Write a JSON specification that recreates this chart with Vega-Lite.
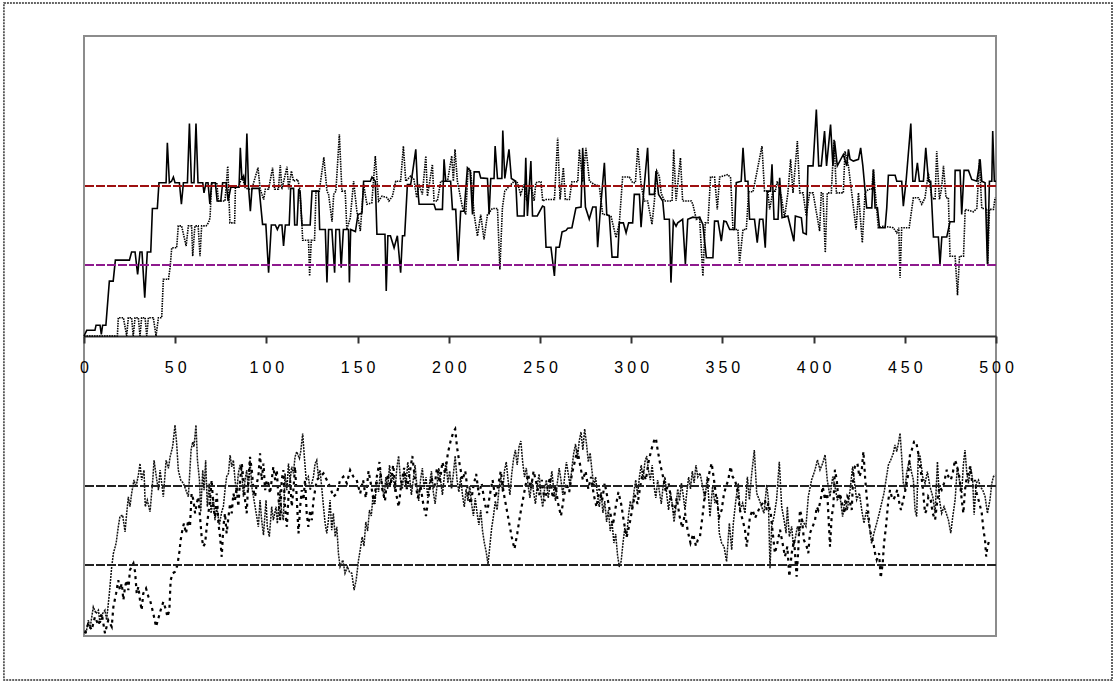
{
"$schema": "https://vega.github.io/schema/vega-lite/v6.json",
"width": 912, "height": 600,
"autosize": "none",
"padding": {"left": 84, "top": 36, "right": 121, "bottom": 46},
"background": "white",
"config": {"view": {"stroke": "#8c8c8c", "strokeWidth": 2}},
"datasets": {
"A": [{"x":0,"y":0},{"x":1.5,"y":1.9},{"x":6,"y":1.9},{"x":6.6,"y":3.6},{"x":8.8,"y":3.6},{"x":9.5,"y":0.5},{"x":10.2,"y":3.6},{"x":12,"y":3.6},{"x":13.9,"y":18.3},{"x":16,"y":18.3},{"x":17.2,"y":25.3},{"x":24.9,"y":25.3},{"x":26.1,"y":28},{"x":28,"y":28},{"x":29.4,"y":20.5},{"x":30.7,"y":28},{"x":31.8,"y":28},{"x":33.3,"y":12.8},{"x":34.7,"y":28},{"x":36.6,"y":28},{"x":37.5,"y":42.5},{"x":40.2,"y":42.5},{"x":41.1,"y":51.1},{"x":45,"y":51.1},{"x":45.7,"y":64.4},{"x":46.8,"y":51.1},{"x":48,"y":51.6},{"x":49,"y":53},{"x":49.9,"y":51.1},{"x":52.3,"y":51.1},{"x":53.4,"y":43.9},{"x":54.5,"y":51.1},{"x":56.7,"y":51.1},{"x":57.8,"y":70.8},{"x":58.9,"y":51.1},{"x":60.3,"y":51.1},{"x":61.4,"y":70.8},{"x":62.5,"y":51.1},{"x":65.1,"y":51.1},{"x":65.8,"y":47.7},{"x":66.9,"y":51.1},{"x":68,"y":51.1},{"x":69,"y":44},{"x":70,"y":51.1},{"x":72,"y":51.1},{"x":73,"y":45},{"x":75,"y":45},{"x":76,"y":51.1},{"x":78,"y":51.1},{"x":79,"y":45},{"x":80.5,"y":49.6},{"x":85,"y":49.6},{"x":85.7,"y":62.7},{"x":86.6,"y":52},{"x":87.5,"y":53.3},{"x":88.4,"y":49.6},{"x":89.3,"y":67.5},{"x":90.2,"y":49.6},{"x":91.2,"y":41.6},{"x":92.1,"y":49.2},{"x":96,"y":49.2},{"x":97.9,"y":37.2},{"x":99.7,"y":37.2},{"x":101.2,"y":21.1},{"x":102.7,"y":37},{"x":104.9,"y":37},{"x":106,"y":35.5},{"x":107.1,"y":37},{"x":108.5,"y":37},{"x":109.4,"y":30},{"x":110.4,"y":37},{"x":112.5,"y":37},{"x":113.3,"y":49.2},{"x":114.9,"y":49.2},{"x":115.5,"y":37},{"x":116.8,"y":37},{"x":117.7,"y":49},{"x":118.5,"y":48},{"x":119.5,"y":37},{"x":124,"y":37},{"x":125,"y":48.3},{"x":128.6,"y":48.3},{"x":129.2,"y":35.5},{"x":132.3,"y":35.5},{"x":133.2,"y":17.8},{"x":134.1,"y":35.5},{"x":135.9,"y":35.5},{"x":137.4,"y":21.1},{"x":138.1,"y":35.5},{"x":140,"y":35.5},{"x":141,"y":22.8},{"x":142.2,"y":35.5},{"x":145,"y":35.5},{"x":145.5,"y":17.8},{"x":146.2,"y":35.5},{"x":148.8,"y":34.8},{"x":150.2,"y":40.5},{"x":152.4,"y":41},{"x":153.3,"y":51.6},{"x":157,"y":51.6},{"x":157.9,"y":53},{"x":159.7,"y":51.6},{"x":160.6,"y":33.9},{"x":165,"y":33.9},{"x":165.7,"y":15},{"x":166.6,"y":33.4},{"x":168,"y":33.4},{"x":170,"y":29.4},{"x":171.8,"y":33.4},{"x":173.6,"y":21.1},{"x":174.6,"y":33.4},{"x":175.8,"y":33.4},{"x":177.3,"y":50.5},{"x":179.1,"y":50.5},{"x":180.1,"y":54.4},{"x":181.9,"y":62.2},{"x":182.8,"y":50.5},{"x":183.7,"y":43.9},{"x":191.9,"y":43.9},{"x":192.8,"y":42.2},{"x":196.5,"y":42.2},{"x":197.4,"y":58.9},{"x":198.3,"y":51.6},{"x":201,"y":51.6},{"x":202,"y":42.2},{"x":203.8,"y":42.2},{"x":205.1,"y":25},{"x":206.5,"y":41.6},{"x":208.4,"y":41.6},{"x":210.2,"y":56.1},{"x":211.7,"y":55},{"x":213,"y":40.5},{"x":213.9,"y":54.7},{"x":216.6,"y":54.7},{"x":217.5,"y":52.7},{"x":221.2,"y":52.5},{"x":222.1,"y":40.5},{"x":223,"y":52.5},{"x":224.8,"y":52.5},{"x":225.4,"y":63.3},{"x":226.7,"y":52.5},{"x":229.1,"y":52.5},{"x":229.6,"y":68.5},{"x":230.7,"y":52.5},{"x":233,"y":62.2},{"x":234.3,"y":52.5},{"x":236.7,"y":51.6},{"x":237.6,"y":40},{"x":241.3,"y":40},{"x":242.2,"y":59.4},{"x":243.1,"y":40},{"x":245,"y":58.3},{"x":245.9,"y":40},{"x":248.5,"y":40},{"x":251.4,"y":43.3},{"x":252.4,"y":43},{"x":253.3,"y":29.6},{"x":256,"y":29.6},{"x":257.9,"y":20},{"x":258.8,"y":29.6},{"x":260.6,"y":29.6},{"x":262.1,"y":34.7},{"x":264.3,"y":35.2},{"x":265.2,"y":35.9},{"x":267.5,"y":36.1},{"x":269.7,"y":42.7},{"x":272.5,"y":43},{"x":273.4,"y":62.7},{"x":274.9,"y":43},{"x":277,"y":38.9},{"x":278.9,"y":43},{"x":280.7,"y":43},{"x":281.6,"y":29.6},{"x":282.9,"y":40.5},{"x":285.3,"y":57.7},{"x":286.6,"y":40.5},{"x":288,"y":40},{"x":289.5,"y":26.3},{"x":292.6,"y":26.3},{"x":293.5,"y":37.7},{"x":295.7,"y":37.7},{"x":297.2,"y":34.4},{"x":298.6,"y":37.7},{"x":300.8,"y":37.7},{"x":301.7,"y":47.2},{"x":304.5,"y":47.2},{"x":305.4,"y":36.3},{"x":306.7,"y":47},{"x":309,"y":62.7},{"x":310,"y":47.2},{"x":312.7,"y":47.2},{"x":313.6,"y":55},{"x":315,"y":47.2},{"x":317.3,"y":45},{"x":318.2,"y":38.9},{"x":320.9,"y":38.9},{"x":321.8,"y":17.8},{"x":323.1,"y":38.3},{"x":324.6,"y":36.6},{"x":325.5,"y":37.7},{"x":328.2,"y":38.9},{"x":329.7,"y":23.9},{"x":331,"y":38.9},{"x":333.8,"y":39.6},{"x":335.7,"y":39.4},{"x":337.5,"y":39.6},{"x":339.3,"y":37.2},{"x":341.2,"y":26.1},{"x":344.8,"y":26.1},{"x":345.7,"y":38.3},{"x":347.6,"y":38.3},{"x":349.4,"y":31.6},{"x":350.8,"y":38.3},{"x":352.1,"y":38.1},{"x":354,"y":35.5},{"x":356.7,"y":35.5},{"x":357.6,"y":51.1},{"x":360.3,"y":51.6},{"x":361.3,"y":62.7},{"x":362.5,"y":51.6},{"x":364,"y":51.6},{"x":364.9,"y":38.9},{"x":367.6,"y":38.9},{"x":369.1,"y":31.1},{"x":370.4,"y":38.9},{"x":372.2,"y":38.9},{"x":373.5,"y":29.4},{"x":374.6,"y":48.3},{"x":376.4,"y":48.3},{"x":377.2,"y":57.2},{"x":378.3,"y":38.9},{"x":380.5,"y":38.9},{"x":381.4,"y":52.7},{"x":382.7,"y":39.4},{"x":385.9,"y":40},{"x":389.2,"y":31.6},{"x":390,"y":40},{"x":393.3,"y":39.4},{"x":394.2,"y":34.4},{"x":396,"y":33.9},{"x":396.9,"y":56.7},{"x":399.7,"y":56.7},{"x":401.5,"y":75.5},{"x":402.8,"y":56.7},{"x":404.2,"y":56.7},{"x":406,"y":68.3},{"x":407.1,"y":56.7},{"x":409.3,"y":70.5},{"x":410.6,"y":56.7},{"x":411.5,"y":65},{"x":413,"y":56.7},{"x":416.3,"y":60.5},{"x":418.2,"y":56.7},{"x":419.1,"y":62.2},{"x":420,"y":58.9},{"x":421.8,"y":58.3},{"x":424.6,"y":58.9},{"x":425.8,"y":62.7},{"x":427,"y":56.7},{"x":429.1,"y":42.7},{"x":431.9,"y":42.7},{"x":432.8,"y":55.5},{"x":433.7,"y":42.7},{"x":435,"y":42.7},{"x":436.1,"y":36.1},{"x":439.2,"y":36.1},{"x":440.1,"y":42.7},{"x":441,"y":53.6},{"x":444.7,"y":53.6},{"x":445.6,"y":51.6},{"x":448.3,"y":51.6},{"x":449.2,"y":43.3},{"x":450.7,"y":51.6},{"x":453.3,"y":70.8},{"x":454.4,"y":51.6},{"x":455.6,"y":51.6},{"x":456.9,"y":57.7},{"x":458,"y":51.6},{"x":460.2,"y":51.6},{"x":461.5,"y":62.7},{"x":463,"y":51.6},{"x":464.2,"y":51.6},{"x":465.7,"y":33},{"x":468.4,"y":33},{"x":469.3,"y":23.9},{"x":470.3,"y":33},{"x":473,"y":33},{"x":474.8,"y":38.1},{"x":477.1,"y":38.1},{"x":477.6,"y":55.2},{"x":480.3,"y":55.2},{"x":481.2,"y":40.5},{"x":482.5,"y":55.2},{"x":484.9,"y":55.2},{"x":486.7,"y":52.2},{"x":489.5,"y":51.6},{"x":491.3,"y":58.9},{"x":492.2,"y":51.6},{"x":494,"y":51.1},{"x":495.3,"y":23.9},{"x":496.4,"y":51.6},{"x":497.7,"y":51.6},{"x":498.2,"y":68.3},{"x":499.1,"y":51.6},{"x":500,"y":51.6}],
"B": [{"x":0,"y":0},{"x":18.3,"y":0},{"x":18.8,"y":6.1},{"x":21.6,"y":6.1},{"x":23.4,"y":0},{"x":24.3,"y":6.1},{"x":26.1,"y":6.1},{"x":27,"y":0},{"x":28,"y":6.1},{"x":29.8,"y":6.1},{"x":30.7,"y":0},{"x":31.6,"y":6.1},{"x":33.5,"y":6.1},{"x":34.4,"y":0},{"x":35.3,"y":6.1},{"x":38,"y":6.1},{"x":39.5,"y":0},{"x":40.8,"y":6.1},{"x":42.6,"y":6.1},{"x":43.5,"y":18.9},{"x":46.3,"y":18.9},{"x":47.2,"y":22.8},{"x":48.1,"y":29.4},{"x":50.8,"y":29.4},{"x":51.7,"y":36.7},{"x":53.5,"y":36.7},{"x":56,"y":30},{"x":57.2,"y":36.7},{"x":59,"y":36.7},{"x":59.6,"y":26.6},{"x":60.8,"y":36.7},{"x":62.6,"y":36.7},{"x":63.6,"y":26.6},{"x":64.5,"y":36.7},{"x":66.9,"y":36.7},{"x":68.2,"y":37.7},{"x":69.1,"y":39.4},{"x":70,"y":51.1},{"x":72.8,"y":51.1},{"x":73.7,"y":45},{"x":77.3,"y":45},{"x":78.8,"y":56.6},{"x":80,"y":37.7},{"x":82.6,"y":37.7},{"x":83,"y":49.6},{"x":84.8,"y":49.6},{"x":86.6,"y":53.3},{"x":88.4,"y":49.4},{"x":90.2,"y":48.9},{"x":92,"y":49},{"x":95.4,"y":56.1},{"x":96.6,"y":48.9},{"x":98.5,"y":45.5},{"x":99.4,"y":48.9},{"x":101.2,"y":48.9},{"x":103.4,"y":56.1},{"x":104.5,"y":48.9},{"x":106.6,"y":48.9},{"x":107.6,"y":57},{"x":108.5,"y":48.9},{"x":111.3,"y":56.4},{"x":112.2,"y":48.9},{"x":113.7,"y":55},{"x":114.9,"y":51.6},{"x":117.1,"y":52.2},{"x":118.2,"y":49.6},{"x":119.5,"y":37},{"x":119.9,"y":31.9},{"x":123.1,"y":31.9},{"x":123.7,"y":20},{"x":124.6,"y":31.9},{"x":126.4,"y":31.9},{"x":127.2,"y":48.3},{"x":129,"y":48.3},{"x":131.5,"y":59.6},{"x":133.2,"y":48.3},{"x":134.1,"y":47.2},{"x":136,"y":38.1},{"x":136.9,"y":47.2},{"x":138.1,"y":48.3},{"x":140,"y":67.2},{"x":141.4,"y":48.3},{"x":143.2,"y":48.3},{"x":144.1,"y":35.5},{"x":146,"y":39.4},{"x":147.8,"y":51.6},{"x":149.6,"y":41.6},{"x":151.5,"y":35},{"x":153.3,"y":50.5},{"x":155.1,"y":43.9},{"x":157.8,"y":44.4},{"x":158.8,"y":52.5},{"x":159.7,"y":60},{"x":161.5,"y":45},{"x":163.4,"y":46.6},{"x":166.3,"y":46.1},{"x":167.2,"y":45},{"x":169.1,"y":46.6},{"x":170.9,"y":51.6},{"x":173.6,"y":51.6},{"x":175.1,"y":63.3},{"x":176.4,"y":51.6},{"x":179.1,"y":53.3},{"x":180.9,"y":52.2},{"x":182.4,"y":46.1},{"x":183.7,"y":50.5},{"x":185.5,"y":47.2},{"x":187.4,"y":60},{"x":188.3,"y":46.6},{"x":191,"y":57.2},{"x":191.9,"y":45},{"x":193.7,"y":45},{"x":195.6,"y":51.6},{"x":199.3,"y":51.6},{"x":201.6,"y":60},{"x":202.5,"y":51.6},{"x":203.4,"y":62.2},{"x":204.7,"y":51.6},{"x":207.5,"y":42.8},{"x":209.3,"y":40.5},{"x":210.6,"y":56.1},{"x":212,"y":55},{"x":213.9,"y":40.5},{"x":215.7,"y":33.3},{"x":217.5,"y":40.5},{"x":219.3,"y":32.2},{"x":221.2,"y":40.5},{"x":223.9,"y":42.5},{"x":226.7,"y":42.5},{"x":228,"y":22.2},{"x":229.4,"y":42.8},{"x":230.7,"y":48.3},{"x":235.8,"y":51.6},{"x":237.6,"y":51.1},{"x":239.4,"y":47.2},{"x":241.3,"y":50.5},{"x":242.7,"y":45},{"x":245,"y":50.5},{"x":246.8,"y":45},{"x":247.7,"y":51.1},{"x":249.6,"y":51.4},{"x":250.5,"y":51.4},{"x":251.5,"y":45},{"x":253.3,"y":45.5},{"x":257.9,"y":45.5},{"x":259.7,"y":66.1},{"x":261,"y":45.5},{"x":262.8,"y":56.1},{"x":263.9,"y":45.5},{"x":266.1,"y":45.5},{"x":267.5,"y":51.4},{"x":270.7,"y":51.4},{"x":271.6,"y":62.2},{"x":273.4,"y":51.4},{"x":275.2,"y":62.7},{"x":277.1,"y":51.6},{"x":279.8,"y":50.5},{"x":282.5,"y":50},{"x":284.4,"y":40.5},{"x":286.2,"y":40.5},{"x":288.9,"y":40},{"x":291.7,"y":32.8},{"x":293.5,"y":37.7},{"x":295.3,"y":53},{"x":299,"y":53},{"x":300.8,"y":51.1},{"x":302.3,"y":51.1},{"x":303.6,"y":62.7},{"x":305.4,"y":50.5},{"x":307.2,"y":45},{"x":309,"y":45},{"x":311.4,"y":37.2},{"x":312.7,"y":45},{"x":314,"y":55},{"x":315.4,"y":53.3},{"x":316.4,"y":47.7},{"x":318.2,"y":45},{"x":322.4,"y":45},{"x":323.3,"y":62.2},{"x":324.6,"y":45},{"x":327,"y":59.4},{"x":328.2,"y":45},{"x":333,"y":45},{"x":333.8,"y":43.9},{"x":335.7,"y":38.9},{"x":337.5,"y":39.4},{"x":339.3,"y":20},{"x":340.6,"y":37.7},{"x":342.1,"y":37.7},{"x":343.5,"y":53},{"x":345.7,"y":53},{"x":347.2,"y":42.2},{"x":348.5,"y":53},{"x":353,"y":53.8},{"x":354.5,"y":52.7},{"x":355.8,"y":35.5},{"x":358.5,"y":35.5},{"x":359.4,"y":24.4},{"x":361.3,"y":35.5},{"x":363.1,"y":35.5},{"x":364.4,"y":48.1},{"x":366.8,"y":48.1},{"x":371.7,"y":63.3},{"x":373.1,"y":48.3},{"x":374.9,"y":48.3},{"x":375.9,"y":42.2},{"x":377.7,"y":48.3},{"x":379,"y":48.3},{"x":380.1,"y":51.6},{"x":382.3,"y":46.6},{"x":384.1,"y":39.4},{"x":385.9,"y":47.7},{"x":387.4,"y":58.9},{"x":388.7,"y":47.7},{"x":391.1,"y":65},{"x":392.4,"y":47.7},{"x":394.2,"y":47.7},{"x":396,"y":40},{"x":397.8,"y":47.7},{"x":399.7,"y":47.7},{"x":403.3,"y":35},{"x":404.2,"y":47.7},{"x":405.1,"y":47.7},{"x":406.4,"y":27.8},{"x":407.5,"y":47.7},{"x":409.7,"y":47.7},{"x":411.2,"y":65.5},{"x":412.5,"y":47.7},{"x":416.3,"y":47.7},{"x":417.2,"y":61.6},{"x":419.1,"y":56.7},{"x":420.9,"y":47.7},{"x":423.3,"y":35.5},{"x":424.6,"y":47.7},{"x":426.7,"y":31.1},{"x":428.2,"y":47.7},{"x":430,"y":48.9},{"x":431.9,"y":48.9},{"x":432.8,"y":55.5},{"x":434.2,"y":45},{"x":435.5,"y":36.1},{"x":438.3,"y":36.6},{"x":443.7,"y":36.1},{"x":445.6,"y":34.4},{"x":446.7,"y":36.1},{"x":447.4,"y":19.4},{"x":448.3,"y":36.1},{"x":452.4,"y":36.1},{"x":454.7,"y":46.1},{"x":457.5,"y":46.1},{"x":459.3,"y":43.9},{"x":461.1,"y":46.1},{"x":462.9,"y":54.4},{"x":464.8,"y":46.1},{"x":466.6,"y":45.5},{"x":467.5,"y":61.6},{"x":469,"y":45.5},{"x":470.2,"y":49.4},{"x":471.2,"y":56.7},{"x":472.6,"y":46.1},{"x":473.9,"y":46.1},{"x":474.8,"y":26.6},{"x":477.6,"y":26.6},{"x":478.9,"y":13.6},{"x":480,"y":26.6},{"x":482.2,"y":26.6},{"x":483.1,"y":42.2},{"x":487.6,"y":41.4},{"x":489.5,"y":42.5},{"x":490.9,"y":58.9},{"x":492.2,"y":42.5},{"x":494.9,"y":42.5},{"x":495.5,"y":24},{"x":496.4,"y":42.2},{"x":498.6,"y":42.2},{"x":499.5,"y":46.1}],
"C": [{"x":1.1,"y":0.9},{"x":2.4,"y":5.3},{"x":3.3,"y":2.5},{"x":5.1,"y":9.7},{"x":6.6,"y":7.5},{"x":7.9,"y":8.6},{"x":8.8,"y":4.2},{"x":10.2,"y":7.5},{"x":11.5,"y":8.6},{"x":12.4,"y":5.3},{"x":13.9,"y":14.2},{"x":15.2,"y":23.1},{"x":16.1,"y":27.5},{"x":17.6,"y":30.9},{"x":18.8,"y":36.4},{"x":19.7,"y":39.8},{"x":21.2,"y":40.3},{"x":22.5,"y":34.7},{"x":23.4,"y":40.9},{"x":24.3,"y":46.4},{"x":25.2,"y":43.1},{"x":26.1,"y":47.5},{"x":27.4,"y":52},{"x":28.5,"y":49.7},{"x":29.8,"y":53.6},{"x":30.7,"y":57.5},{"x":31.6,"y":52},{"x":32.9,"y":55.3},{"x":33.6,"y":43.1},{"x":34.7,"y":45.3},{"x":36.2,"y":41.4},{"x":37.7,"y":52},{"x":38.4,"y":58.6},{"x":39.9,"y":52},{"x":40.8,"y":48.6},{"x":41.7,"y":55.3},{"x":42.6,"y":50.9},{"x":43.5,"y":46.4},{"x":45,"y":58.6},{"x":46.3,"y":55.9},{"x":47.2,"y":59.7},{"x":48.6,"y":63.1},{"x":49.9,"y":70.3},{"x":50.8,"y":64.2},{"x":51.7,"y":55.3},{"x":53,"y":52},{"x":54.5,"y":50.9},{"x":55.9,"y":48.6},{"x":57.2,"y":46.4},{"x":58.7,"y":62},{"x":59.6,"y":64.7},{"x":60.3,"y":63.1},{"x":61.4,"y":70.3},{"x":62.2,"y":58.6},{"x":63.3,"y":52},{"x":64,"y":41.4},{"x":65.1,"y":55.3},{"x":65.8,"y":48.6},{"x":66.7,"y":58.6},{"x":67.6,"y":43.1},{"x":68.7,"y":50.9},{"x":69.7,"y":40.9},{"x":70.9,"y":46.4},{"x":71.8,"y":38.6},{"x":72.8,"y":43.1},{"x":74.2,"y":37},{"x":75.5,"y":41.4},{"x":76.4,"y":43.1},{"x":77.3,"y":48.6},{"x":78.2,"y":53.1},{"x":79.2,"y":54.2},{"x":80.1,"y":60.3},{"x":81,"y":56.4},{"x":81.9,"y":58.6},{"x":82.8,"y":52},{"x":83.7,"y":47.5},{"x":84.6,"y":54.2},{"x":85.6,"y":57},{"x":86.5,"y":54.7},{"x":87.4,"y":46.4},{"x":88.3,"y":52},{"x":89.2,"y":55.3},{"x":90.1,"y":48.6},{"x":91,"y":58.6},{"x":92,"y":49.7},{"x":92.9,"y":46.4},{"x":93.8,"y":43.1},{"x":94.7,"y":39.8},{"x":95.6,"y":36.4},{"x":96.5,"y":45.3},{"x":97.4,"y":38.6},{"x":98.4,"y":33.6},{"x":99.8,"y":45.3},{"x":100.5,"y":36.4},{"x":101.6,"y":33.1},{"x":102.9,"y":43.1},{"x":103.8,"y":38.6},{"x":105.3,"y":43.1},{"x":106,"y":37.5},{"x":107.5,"y":48.6},{"x":108.4,"y":40.9},{"x":109.3,"y":38.6},{"x":110.2,"y":54.2},{"x":111.2,"y":48.6},{"x":112.1,"y":57.5},{"x":113,"y":52},{"x":113.9,"y":56.4},{"x":114.8,"y":54.2},{"x":115.7,"y":59.7},{"x":116.6,"y":61.4},{"x":118.1,"y":59.2},{"x":118.8,"y":61.4},{"x":119.9,"y":67.5},{"x":120.8,"y":59.7},{"x":121.8,"y":52},{"x":123,"y":53.1},{"x":124,"y":48.6},{"x":124.9,"y":50.9},{"x":125.8,"y":53.1},{"x":126.7,"y":57.5},{"x":127.6,"y":58.6},{"x":128.5,"y":53.1},{"x":129.4,"y":55.3},{"x":130.3,"y":49.7},{"x":131.3,"y":43.1},{"x":132.2,"y":37.5},{"x":133.1,"y":34.2},{"x":134,"y":38.6},{"x":134.9,"y":45.3},{"x":135.8,"y":35.3},{"x":136.7,"y":40.9},{"x":137.7,"y":33.1},{"x":138.6,"y":36.4},{"x":139.5,"y":27.5},{"x":140.4,"y":23.1},{"x":141.9,"y":25.3},{"x":143.1,"y":20.9},{"x":144.4,"y":23.1},{"x":145.5,"y":21.4},{"x":146.8,"y":20.9},{"x":148.1,"y":15.3},{"x":149.2,"y":18.6},{"x":150.5,"y":25.3},{"x":151.4,"y":28.6},{"x":152.5,"y":33},{"x":153.5,"y":30},{"x":154.5,"y":38},{"x":155.5,"y":35},{"x":156.5,"y":42},{"x":157.5,"y":40},{"x":158.5,"y":47},{"x":159.5,"y":44},{"x":160.5,"y":52},{"x":161.5,"y":48},{"x":162.5,"y":55},{"x":163.5,"y":50},{"x":164.5,"y":46},{"x":165.5,"y":53},{"x":166.5,"y":49},{"x":167.5,"y":57},{"x":168.5,"y":51},{"x":169.5,"y":54},{"x":170.5,"y":48},{"x":171.5,"y":56},{"x":172.5,"y":60},{"x":173.5,"y":52},{"x":174.5,"y":49},{"x":175.5,"y":55},{"x":176.5,"y":50},{"x":177.5,"y":58},{"x":178.5,"y":53},{"x":179.5,"y":47},{"x":180.5,"y":52},{"x":181.5,"y":57},{"x":182.5,"y":50},{"x":183.5,"y":45},{"x":184.5,"y":52},{"x":185.5,"y":56},{"x":186.5,"y":49},{"x":187.5,"y":53},{"x":188.5,"y":46},{"x":189.5,"y":51},{"x":190.5,"y":55},{"x":191.5,"y":48},{"x":192.5,"y":44},{"x":193.5,"y":50},{"x":194.5,"y":56},{"x":195.5,"y":52},{"x":196.5,"y":47},{"x":197.5,"y":53},{"x":198.5,"y":58},{"x":199.5,"y":51},{"x":200.5,"y":55},{"x":201.5,"y":49},{"x":202.5,"y":54},{"x":203.5,"y":60},{"x":204.5,"y":52},{"x":205.5,"y":48},{"x":206.5,"y":53},{"x":207.5,"y":47},{"x":208.5,"y":43},{"x":209.5,"y":49},{"x":210.5,"y":45},{"x":211.5,"y":50},{"x":212.5,"y":44},{"x":213.5,"y":40},{"x":214.5,"y":46},{"x":215.5,"y":41},{"x":216.5,"y":37},{"x":217.5,"y":42},{"x":218.5,"y":35},{"x":219.5,"y":31},{"x":220.5,"y":28},{"x":221.5,"y":24},{"x":222.5,"y":30},{"x":223.5,"y":36},{"x":224.5,"y":40},{"x":225.5,"y":45},{"x":226.5,"y":42},{"x":227.5,"y":49},{"x":228.5,"y":53},{"x":229.5,"y":48},{"x":230.5,"y":55},{"x":231.5,"y":58},{"x":232.5,"y":52},{"x":233.5,"y":47},{"x":234.5,"y":54},{"x":235.5,"y":59},{"x":236.5,"y":62},{"x":237.5,"y":57},{"x":238.5,"y":63},{"x":239.5,"y":65},{"x":240.5,"y":58},{"x":241.5,"y":53},{"x":242.5,"y":56},{"x":243.5,"y":50},{"x":244.5,"y":46},{"x":245.5,"y":52},{"x":246.5,"y":48},{"x":247.5,"y":44},{"x":248.5,"y":50},{"x":249.5,"y":54},{"x":250.5,"y":47},{"x":251.5,"y":43},{"x":252.5,"y":49},{"x":253.5,"y":52},{"x":254.5,"y":46},{"x":255.5,"y":50},{"x":256.5,"y":55},{"x":257.5,"y":49},{"x":258.5,"y":45},{"x":259.5,"y":51},{"x":260.5,"y":56},{"x":261.5,"y":52},{"x":262.5,"y":47},{"x":263.5,"y":53},{"x":264.5,"y":58},{"x":265.5,"y":54},{"x":266.5,"y":50},{"x":267.5,"y":56},{"x":268.5,"y":61},{"x":269.5,"y":64},{"x":270.5,"y":59},{"x":271.5,"y":65},{"x":272.5,"y":68},{"x":273.5,"y":62},{"x":274.5,"y":69},{"x":275.5,"y":64},{"x":276.5,"y":58},{"x":277.5,"y":61},{"x":278.5,"y":55},{"x":279.5,"y":50},{"x":280.5,"y":53},{"x":281.5,"y":47},{"x":282.5,"y":43},{"x":283.5,"y":48},{"x":284.5,"y":41},{"x":285.5,"y":45},{"x":286.5,"y":38},{"x":287.5,"y":42},{"x":288.5,"y":35},{"x":289.5,"y":38},{"x":290.5,"y":31},{"x":291.5,"y":34},{"x":292.5,"y":27},{"x":293.5,"y":23},{"x":294.5,"y":25},{"x":295.5,"y":31},{"x":296.5,"y":36},{"x":297.5,"y":33},{"x":298.5,"y":40},{"x":299.5,"y":45},{"x":300.5,"y":42},{"x":301.5,"y":48},{"x":302.5,"y":52},{"x":303.5,"y":47},{"x":304.5,"y":53},{"x":305.5,"y":57},{"x":306.5,"y":52},{"x":307.5,"y":58},{"x":308.5,"y":60},{"x":309.5,"y":55},{"x":310.5,"y":52},{"x":311.5,"y":57},{"x":312.5,"y":50},{"x":313.5,"y":46},{"x":314.5,"y":52},{"x":315.5,"y":48},{"x":316.5,"y":44},{"x":317.5,"y":50},{"x":318.5,"y":53},{"x":319.5,"y":47},{"x":320.5,"y":42},{"x":321.5,"y":48},{"x":322.5,"y":44},{"x":323.5,"y":38},{"x":324.5,"y":43},{"x":325.5,"y":49},{"x":326.5,"y":45},{"x":327.5,"y":51},{"x":328.5,"y":47},{"x":329.5,"y":42},{"x":330.5,"y":48},{"x":331.5,"y":53},{"x":332.5,"y":49},{"x":333.5,"y":55},{"x":334.5,"y":51},{"x":335.5,"y":57},{"x":336.5,"y":53},{"x":337.7,"y":54.3},{"x":339.2,"y":49.8},{"x":340.4,"y":45.4},{"x":341.7,"y":53.1},{"x":343.2,"y":39.8},{"x":344.6,"y":49.8},{"x":345.9,"y":44.3},{"x":347.2,"y":46.5},{"x":348.3,"y":34.3},{"x":349.6,"y":30.9},{"x":350.9,"y":29.8},{"x":352.3,"y":24.8},{"x":353.8,"y":37.6},{"x":355.1,"y":28.7},{"x":356,"y":37.6},{"x":357.4,"y":45.4},{"x":358.7,"y":50.9},{"x":359.6,"y":42},{"x":361.1,"y":44.3},{"x":362.4,"y":40.9},{"x":363.7,"y":53.1},{"x":364.8,"y":45.4},{"x":366.1,"y":54.3},{"x":367.5,"y":62},{"x":368.8,"y":47.6},{"x":370.2,"y":45.4},{"x":371.5,"y":43.1},{"x":372.8,"y":40.9},{"x":374.3,"y":50.4},{"x":375.2,"y":45.4},{"x":376.1,"y":22.6},{"x":377,"y":36.5},{"x":378.3,"y":39.8},{"x":379.7,"y":45.4},{"x":381.2,"y":58.1},{"x":382.5,"y":43.1},{"x":383.8,"y":38.7},{"x":384.9,"y":34.3},{"x":385.6,"y":43.1},{"x":386.7,"y":33.1},{"x":388,"y":36.5},{"x":388.9,"y":29.8},{"x":389.8,"y":32},{"x":391.1,"y":36.5},{"x":392.2,"y":34.3},{"x":393.5,"y":38.7},{"x":394.7,"y":37.6},{"x":395.8,"y":36.5},{"x":397.1,"y":46.5},{"x":398.9,"y":52},{"x":400.8,"y":55.4},{"x":402.1,"y":58.7},{"x":403.5,"y":55.4},{"x":405,"y":57.6},{"x":406.3,"y":60.4},{"x":407.5,"y":52},{"x":409,"y":46.5},{"x":410.5,"y":53.1},{"x":411.7,"y":49.8},{"x":413,"y":45.4},{"x":414.5,"y":46.5},{"x":415.9,"y":39.8},{"x":417.2,"y":45.4},{"x":418.5,"y":42},{"x":420,"y":48.7},{"x":421.4,"y":56.5},{"x":422.7,"y":49.8},{"x":423.6,"y":45.4},{"x":425.1,"y":47.6},{"x":426.4,"y":42},{"x":427.6,"y":37.6},{"x":429.1,"y":42},{"x":430.6,"y":36.5},{"x":431.8,"y":30.9},{"x":433.1,"y":34.3},{"x":434.6,"y":37.6},{"x":436,"y":40.9},{"x":437.3,"y":44.3},{"x":438.6,"y":47.6},{"x":439.7,"y":52},{"x":441,"y":57},{"x":442.3,"y":58.7},{"x":443.7,"y":60.9},{"x":444.6,"y":63.7},{"x":445.6,"y":61.5},{"x":446.5,"y":64.3},{"x":447.4,"y":67.6},{"x":448.3,"y":59.8},{"x":449.2,"y":50.9},{"x":450.1,"y":48.7},{"x":451,"y":54.3},{"x":452.5,"y":58.7},{"x":453.4,"y":55.4},{"x":454.7,"y":52},{"x":455.6,"y":42},{"x":456.5,"y":39.8},{"x":457.4,"y":60.9},{"x":458.4,"y":59.8},{"x":459.8,"y":53.1},{"x":461.1,"y":50.9},{"x":462.4,"y":54.8},{"x":463.8,"y":49.8},{"x":465.3,"y":46.5},{"x":466.6,"y":40.9},{"x":467.9,"y":58.1},{"x":469,"y":45.4},{"x":470.2,"y":40.9},{"x":471.5,"y":43.1},{"x":473,"y":40.4},{"x":473.9,"y":38.7},{"x":475.2,"y":34.3},{"x":476.3,"y":39.8},{"x":477.6,"y":45.4},{"x":478.8,"y":56.5},{"x":479.9,"y":52},{"x":481.2,"y":47.6},{"x":482.1,"y":57},{"x":483,"y":62},{"x":484,"y":54.3},{"x":484.9,"y":50.9},{"x":486.1,"y":56.5},{"x":487.2,"y":52},{"x":488,"y":40.4},{"x":489.1,"y":50.9},{"x":490.4,"y":52},{"x":491.3,"y":49.8},{"x":492.7,"y":48.7},{"x":494,"y":46.5},{"x":495.3,"y":40.9},{"x":496.7,"y":45.4},{"x":497.7,"y":50.9},{"x":498.6,"y":53.1},{"x":499.5,"y":53.7}],
"D": [{"x":0.5,"y":0.9},{"x":2.4,"y":4.2},{"x":4.2,"y":2},{"x":6,"y":6.4},{"x":7.9,"y":3.6},{"x":9.7,"y":7.5},{"x":11.5,"y":0.9},{"x":13.3,"y":5.3},{"x":15.2,"y":3.1},{"x":16.1,"y":9.7},{"x":17.6,"y":14.2},{"x":18.8,"y":18.6},{"x":19.7,"y":15.3},{"x":20.7,"y":17.5},{"x":21.6,"y":12},{"x":22.5,"y":16.4},{"x":23.4,"y":18.6},{"x":24.3,"y":15.3},{"x":25.2,"y":22},{"x":26.1,"y":23.1},{"x":27.1,"y":24.2},{"x":28,"y":21.4},{"x":28.9,"y":14.2},{"x":29.8,"y":16.4},{"x":30.7,"y":12},{"x":31.6,"y":8.6},{"x":32.5,"y":14.2},{"x":34,"y":15.9},{"x":35.3,"y":13.1},{"x":36.2,"y":12},{"x":38,"y":7.5},{"x":39.5,"y":3.1},{"x":40.8,"y":5.9},{"x":42,"y":8.6},{"x":43.5,"y":11.4},{"x":45,"y":8.6},{"x":45.7,"y":6.4},{"x":46.8,"y":8.6},{"x":47.5,"y":18.6},{"x":48.6,"y":20.9},{"x":49.9,"y":21.4},{"x":51.2,"y":23.6},{"x":52.3,"y":28.1},{"x":53,"y":32},{"x":54.1,"y":35.9},{"x":54.8,"y":37.5},{"x":55.9,"y":34.2},{"x":57.2,"y":38.6},{"x":58.1,"y":36.4},{"x":59,"y":47.5},{"x":60,"y":45.3},{"x":60.9,"y":40.9},{"x":61.8,"y":44.2},{"x":62.7,"y":46.4},{"x":63.6,"y":39.7},{"x":64.5,"y":33.1},{"x":65.4,"y":29.8},{"x":66.4,"y":30.9},{"x":67.3,"y":36.4},{"x":68.2,"y":40.9},{"x":69.1,"y":45.3},{"x":70,"y":52},{"x":70.9,"y":43.1},{"x":71.8,"y":39.7},{"x":72.8,"y":47.5},{"x":73.7,"y":37.5},{"x":74.6,"y":33.1},{"x":75.5,"y":26.4},{"x":76.4,"y":36.4},{"x":77.3,"y":40.9},{"x":78.2,"y":34.2},{"x":79.2,"y":39.7},{"x":80.1,"y":44.2},{"x":81,"y":40.9},{"x":81.9,"y":47.5},{"x":82.8,"y":45.3},{"x":83.7,"y":49.7},{"x":84.6,"y":43.1},{"x":85.6,"y":52},{"x":86.5,"y":57.5},{"x":87.4,"y":52},{"x":88.3,"y":45.3},{"x":89.2,"y":40.9},{"x":90.1,"y":52},{"x":91,"y":59.7},{"x":92,"y":55.3},{"x":92.9,"y":48.6},{"x":93.8,"y":46.4},{"x":94.7,"y":50.9},{"x":95.6,"y":53.1},{"x":96.5,"y":60.9},{"x":97.4,"y":52},{"x":98.4,"y":57.5},{"x":99.3,"y":48.6},{"x":100.2,"y":52},{"x":101.1,"y":50.9},{"x":102,"y":47.5},{"x":103.8,"y":56.4},{"x":104.8,"y":52},{"x":105.7,"y":55.3},{"x":106.6,"y":46.4},{"x":107.5,"y":38.6},{"x":108.4,"y":52},{"x":109.3,"y":55.3},{"x":110.2,"y":43.1},{"x":111.2,"y":36.4},{"x":112.1,"y":46.4},{"x":113,"y":52},{"x":113.9,"y":43.1},{"x":114.8,"y":48.6},{"x":115.7,"y":56.4},{"x":116.6,"y":46.4},{"x":117.6,"y":34.2},{"x":118.5,"y":43.1},{"x":119.4,"y":48.6},{"x":120.3,"y":45.3},{"x":121.2,"y":52},{"x":122.1,"y":40.9},{"x":123,"y":36.4},{"x":124,"y":42},{"x":124.9,"y":38.6},{"x":125.8,"y":45.3},{"x":127.6,"y":52},{"x":129.4,"y":53.1},{"x":131.3,"y":54.2},{"x":133.1,"y":52},{"x":134.9,"y":49.7},{"x":136.7,"y":46.4},{"x":138.6,"y":47.5},{"x":140.4,"y":52},{"x":142.2,"y":53.1},{"x":144.1,"y":50.9},{"x":145.9,"y":55.3},{"x":147.7,"y":53.1},{"x":149.5,"y":52},{"x":151.4,"y":47.5},{"x":153,"y":52},{"x":154.5,"y":46},{"x":156,"y":55},{"x":157.5,"y":50},{"x":159,"y":44},{"x":160.5,"y":53},{"x":162,"y":58},{"x":163.5,"y":49},{"x":165,"y":45},{"x":166.5,"y":54},{"x":168,"y":50},{"x":169.5,"y":57},{"x":171,"y":48},{"x":172.5,"y":43},{"x":174,"y":51},{"x":175.5,"y":56},{"x":177,"y":49},{"x":178.5,"y":54},{"x":180,"y":60},{"x":181.5,"y":52},{"x":183,"y":46},{"x":184.5,"y":50},{"x":186,"y":44},{"x":187.5,"y":40},{"x":189,"y":47},{"x":190.5,"y":53},{"x":192,"y":49},{"x":193.5,"y":56},{"x":195,"y":51},{"x":196.5,"y":58},{"x":198,"y":54},{"x":199.5,"y":61},{"x":201,"y":65},{"x":202.5,"y":68},{"x":203.5,"y":69},{"x":204.5,"y":63},{"x":206,"y":57},{"x":207.5,"y":52},{"x":209,"y":55},{"x":210.5,"y":48},{"x":212,"y":44},{"x":213.5,"y":50},{"x":215,"y":54},{"x":216.5,"y":47},{"x":218,"y":51},{"x":219.5,"y":45},{"x":221,"y":41},{"x":222.5,"y":47},{"x":224,"y":52},{"x":225.5,"y":46},{"x":227,"y":50},{"x":228.5,"y":55},{"x":230,"y":48},{"x":231.5,"y":43},{"x":233,"y":38},{"x":234.5,"y":33},{"x":236,"y":29},{"x":237.5,"y":34},{"x":239,"y":40},{"x":240.5,"y":45},{"x":242,"y":50},{"x":243.5,"y":54},{"x":245,"y":49},{"x":246.5,"y":55},{"x":248,"y":51},{"x":249.5,"y":47},{"x":251,"y":52},{"x":252.5,"y":45},{"x":254,"y":49},{"x":255.5,"y":53},{"x":257,"y":46},{"x":258.5,"y":50},{"x":260,"y":44},{"x":261.5,"y":40},{"x":263,"y":46},{"x":264.5,"y":51},{"x":266,"y":48},{"x":267.5,"y":54},{"x":269,"y":58},{"x":270.5,"y":62},{"x":272,"y":57},{"x":273.5,"y":52},{"x":275,"y":55},{"x":276.5,"y":49},{"x":278,"y":53},{"x":279.5,"y":47},{"x":281,"y":43},{"x":282.5,"y":49},{"x":284,"y":45},{"x":285.5,"y":51},{"x":287,"y":46},{"x":288.5,"y":41},{"x":290,"y":37},{"x":291.5,"y":43},{"x":293,"y":48},{"x":294.5,"y":44},{"x":296,"y":38},{"x":297.5,"y":33},{"x":299,"y":37},{"x":300.5,"y":42},{"x":302,"y":47},{"x":303.5,"y":44},{"x":305,"y":50},{"x":306.5,"y":55},{"x":308,"y":52},{"x":309.5,"y":58},{"x":311,"y":62},{"x":312.5,"y":65},{"x":313.5,"y":66},{"x":314.5,"y":62},{"x":316,"y":57},{"x":317.5,"y":53},{"x":319,"y":48},{"x":320.5,"y":51},{"x":322,"y":45},{"x":323.5,"y":41},{"x":325,"y":46},{"x":326.5,"y":40},{"x":328,"y":36},{"x":329.5,"y":41},{"x":331,"y":35},{"x":332.5,"y":31},{"x":334,"y":34},{"x":335.5,"y":30},{"x":336.5,"y":32},{"x":337.7,"y":33.1},{"x":338.6,"y":37.6},{"x":339.5,"y":42},{"x":340.4,"y":47.6},{"x":341.7,"y":49.8},{"x":342.8,"y":54.3},{"x":344.1,"y":57.6},{"x":345.4,"y":52},{"x":346.8,"y":45.4},{"x":348.3,"y":39.8},{"x":349.6,"y":42},{"x":350.9,"y":47.6},{"x":352,"y":49.8},{"x":353.2,"y":52},{"x":354.5,"y":56.5},{"x":355.6,"y":53.1},{"x":356.9,"y":52},{"x":358.2,"y":48.7},{"x":359.6,"y":42},{"x":361.1,"y":38.7},{"x":362.4,"y":35.4},{"x":363.3,"y":29.8},{"x":364.2,"y":34.3},{"x":365.1,"y":39.8},{"x":366.6,"y":42},{"x":367.9,"y":39.3},{"x":369.1,"y":40.9},{"x":370.6,"y":43.1},{"x":372.1,"y":44.3},{"x":373.3,"y":45.4},{"x":374.3,"y":42},{"x":375.2,"y":44.3},{"x":376.5,"y":40.9},{"x":377.6,"y":34.3},{"x":378.8,"y":27.6},{"x":380.1,"y":30.9},{"x":381.6,"y":35.4},{"x":383,"y":30.9},{"x":384.3,"y":26.5},{"x":385.6,"y":29.8},{"x":386.7,"y":19.8},{"x":388,"y":27.6},{"x":389.3,"y":32},{"x":390.7,"y":19.8},{"x":391.6,"y":28.7},{"x":392.5,"y":42},{"x":393.5,"y":39.8},{"x":394.7,"y":32},{"x":396.2,"y":29.8},{"x":397.1,"y":27.6},{"x":398,"y":34.3},{"x":399.5,"y":36.5},{"x":400.8,"y":38.7},{"x":401.7,"y":43.1},{"x":402.6,"y":42},{"x":403.9,"y":45.4},{"x":405,"y":49.8},{"x":406.3,"y":45.4},{"x":407.5,"y":47.6},{"x":409,"y":29.8},{"x":409.9,"y":39.8},{"x":410.8,"y":43.1},{"x":411.7,"y":55.4},{"x":412.7,"y":52},{"x":413.6,"y":45.4},{"x":414.5,"y":47.6},{"x":415.9,"y":43.1},{"x":417.2,"y":40.9},{"x":418.5,"y":46.5},{"x":419.6,"y":45.4},{"x":420.9,"y":42},{"x":421.8,"y":54.3},{"x":422.7,"y":56.5},{"x":424,"y":57.6},{"x":425.1,"y":53.1},{"x":426.4,"y":55.4},{"x":427.3,"y":61.5},{"x":428.2,"y":53.1},{"x":429.1,"y":46.5},{"x":430,"y":40.9},{"x":430.9,"y":35.4},{"x":431.8,"y":33.1},{"x":432.8,"y":30.9},{"x":433.7,"y":27.6},{"x":434.6,"y":25.4},{"x":435.9,"y":27.6},{"x":436.8,"y":19.3},{"x":437.9,"y":24.3},{"x":438.6,"y":30.9},{"x":439.7,"y":36.5},{"x":441,"y":45.4},{"x":441.9,"y":48.7},{"x":442.8,"y":46.5},{"x":443.7,"y":45.4},{"x":444.6,"y":46.5},{"x":445.9,"y":48.7},{"x":447,"y":44.3},{"x":447.9,"y":42},{"x":449.2,"y":45.4},{"x":450.7,"y":49.8},{"x":452,"y":54.3},{"x":452.9,"y":60.9},{"x":453.8,"y":62},{"x":455.1,"y":64.8},{"x":456.2,"y":64.8},{"x":457.4,"y":60.9},{"x":458.7,"y":55.4},{"x":459.8,"y":49.8},{"x":461.1,"y":40.9},{"x":462,"y":42},{"x":462.9,"y":46.5},{"x":464.2,"y":45.4},{"x":465.3,"y":40.9},{"x":466.6,"y":38.7},{"x":467.9,"y":45.4},{"x":469,"y":49.8},{"x":470.2,"y":48.7},{"x":471.5,"y":50.9},{"x":473,"y":55.4},{"x":473.9,"y":53.1},{"x":475.2,"y":52},{"x":476.3,"y":54.3},{"x":477.5,"y":58.7},{"x":478.5,"y":57},{"x":479.9,"y":53.1},{"x":481.2,"y":45.4},{"x":482.1,"y":40.9},{"x":483,"y":48.7},{"x":484,"y":53.1},{"x":484.9,"y":54.3},{"x":485.8,"y":56.5},{"x":487.2,"y":49.8},{"x":488.5,"y":52},{"x":489.4,"y":47.6},{"x":490.9,"y":44.3},{"x":492.2,"y":40.9},{"x":493.1,"y":35.4},{"x":494,"y":32},{"x":494.6,"y":26.5},{"x":495.3,"y":29.8},{"x":496.4,"y":32}]
},
"layer": [
 {"layer": [
  {"data": {"name": "A"}, "mark": {"type": "line", "color": "black", "strokeWidth": 1.6},
   "encoding": {
    "x": {"field": "x", "type": "quantitative", "scale": {"domain": [0, 500], "nice": false, "zero": false},
          "axis": {"offset": -300, "values": [0,50,100,150,200,250,300,350,400,450,500], "title": null, "grid": false,
                   "domainColor": "#333333", "domainWidth": 2, "tickColor": "#333333", "tickWidth": 2, "tickSize": 7,
                   "labelFont": "Liberation Sans", "labelFontSize": 16, "labelColor": "black", "labelPadding": 16,
                   "labelExpr": "replace(datum.label, regexp('(\\\\d)(?=\\\\d)', 'g'), '$1\u2005')",
                   "labelFlush": false, "labelOverlap": false, "labelBound": false}},
    "y": {"field": "y", "type": "quantitative", "scale": {"domain": [-100, 100], "nice": false, "zero": false}, "axis": null}}},
  {"data": {"name": "B"}, "mark": {"type": "line", "color": "black", "strokeWidth": 1.6, "strokeDash": [1.5, 1]},
   "encoding": {
    "x": {"field": "x", "type": "quantitative"},
    "y": {"field": "y", "type": "quantitative", "axis": null}}},
  {"data": {"values": [{"level": 50}]}, "mark": {"type": "rule", "color": "#9e1010", "strokeWidth": 2, "strokeDash": [9, 2]},
   "encoding": {"y": {"field": "level", "type": "quantitative", "axis": null}}},
  {"data": {"values": [{"level": 23.7}]}, "mark": {"type": "rule", "color": "#8e1a8e", "strokeWidth": 2, "strokeDash": [9, 2]},
   "encoding": {"y": {"field": "level", "type": "quantitative", "axis": null}}}
 ]},
 {"layer": [
  {"data": {"name": "C"}, "mark": {"type": "line", "color": "#111111", "strokeWidth": 1.5, "strokeDash": [2, 1]},
   "encoding": {
    "x": {"field": "x", "type": "quantitative"},
    "y": {"field": "y", "type": "quantitative", "scale": {"domain": [0, 200], "nice": false, "zero": false}, "axis": null}}},
  {"data": {"name": "D"}, "mark": {"type": "line", "color": "black", "strokeWidth": 2.2, "strokeDash": [3, 4]},
   "encoding": {
    "x": {"field": "x", "type": "quantitative"},
    "y": {"field": "y", "type": "quantitative", "axis": null}}},
  {"data": {"values": [{"level": 50}, {"level": 23.7}]}, "mark": {"type": "rule", "color": "#222222", "strokeWidth": 2, "strokeDash": [9, 2]},
   "encoding": {"y": {"field": "level", "type": "quantitative", "axis": null}}},
  {"data": {"values": [{}]}, "mark": {"type": "rect", "filled": false, "stroke": "#333333", "strokeWidth": 1.5, "strokeDash": [2, 1]},
   "encoding": {
    "x": {"datum": -43.9, "type": "quantitative"}, "x2": {"datum": 563.6},
    "y": {"datum": 211, "type": "quantitative", "axis": null}, "y2": {"datum": -14.7}}}
 ]}
],
"resolve": {"scale": {"y": "independent"}}
}
